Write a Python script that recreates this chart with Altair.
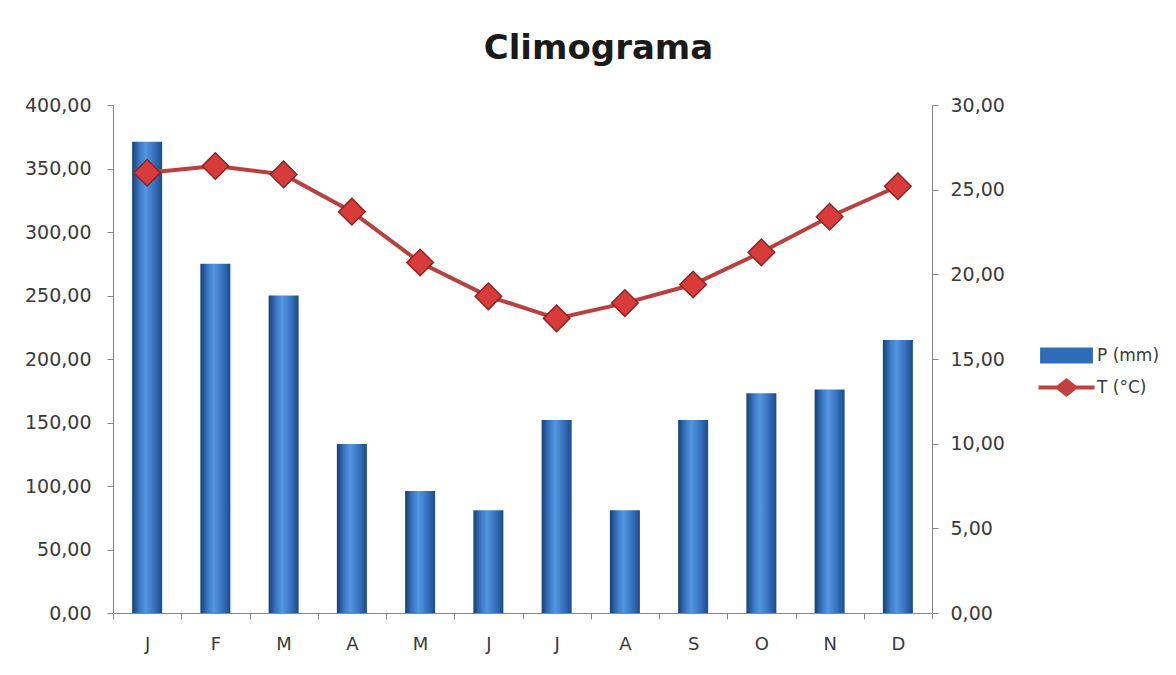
import altair as alt
import pandas as pd

months = ["J", "F", "M", "A", "M ", "J ", "J  ", "A ", "S", "O", "N", "D"]
precip = [371, 275, 250, 133, 96, 81, 152, 81, 152, 173, 176, 215]
temp = [26.0, 26.4, 25.9, 23.7, 20.7, 18.7, 17.4, 18.3, 19.4, 21.3, 23.4, 25.2]
series = ["P (mm)", "T (°C)"]

df = pd.DataFrame({"mes": months, "P": precip, "T": temp, "serie": series[1]})

FONT = "DejaVu Sans"
AXIS_GRAY = "#868686"
LABEL_COLOR = "#3a3a3a"

label_expr = "replace(format(datum.value, '.2f'), '.', ',')"

x_enc = alt.X(
    "mes:N",
    sort=months,
    scale=alt.Scale(paddingInner=0, paddingOuter=0),
    axis=alt.Axis(
        title=None,
        labelAngle=0,
        labelExpr="isValid(datum.value) ? trim(datum.value) : ''",
        tickBand="extent",
        tickSize=6,
        tickColor=AXIS_GRAY,
        domainColor=AXIS_GRAY,
        labelFont=FONT,
        labelFontSize=18,
        labelColor=LABEL_COLOR,
        labelPadding=16,
    ),
)

bar_gradient = alt.Gradient(
    gradient="linear",
    stops=[
        alt.GradientStop(color="#173f75", offset=0),
        alt.GradientStop(color="#3a78c4", offset=0.25),
        alt.GradientStop(color="#5596e0", offset=0.45),
        alt.GradientStop(color="#3470bd", offset=0.75),
        alt.GradientStop(color="#1c4b8a", offset=1),
    ],
    x1=0, x2=1, y1=0, y2=0,
)

bars = alt.Chart(df).mark_bar(size=30, fill=bar_gradient).encode(
    x=x_enc,
    y=alt.Y(
        "P:Q",
        scale=alt.Scale(domain=[0, 400], nice=False),
        axis=alt.Axis(
            title=None,
            orient="left",
            values=[0, 50, 100, 150, 200, 250, 300, 350, 400],
            labelExpr=label_expr,
            grid=False,
            tickSize=6,
            tickColor=AXIS_GRAY,
            domainColor=AXIS_GRAY,
            labelFont=FONT,
            labelFontSize=19,
            labelColor=LABEL_COLOR,
            labelPadding=16,
        ),
    ),
)

y_t = alt.Y(
    "T:Q",
    scale=alt.Scale(domain=[0, 30], nice=False),
    axis=alt.Axis(
        title=None,
        orient="right",
        values=[0, 5, 10, 15, 20, 25, 30],
        labelExpr=label_expr,
        grid=False,
        tickSize=6,
        tickColor=AXIS_GRAY,
        domainColor=AXIS_GRAY,
        labelFont=FONT,
        labelFontSize=19,
        labelColor=LABEL_COLOR,
        labelPadding=12,
    ),
)

line = alt.Chart(df).mark_line(color="#b8413f", strokeWidth=4).encode(x=x_enc, y=y_t)

pts_edge = alt.Chart(df).mark_point(
    shape="diamond", filled=True, color="#8c2222", size=820, opacity=1
).encode(x=x_enc, y=y_t)

pts = alt.Chart(df).mark_point(
    shape="diamond", filled=True, color="#d83c3a", size=600, opacity=1
).encode(x=x_enc, y=y_t)

rect_path = "M-3.3,-1L3.3,-1L3.3,1L-3.3,1Z"
line_diamond_path = (
    "M-3.5,-0.25L3.5,-0.25L3.5,0.25L-3.5,0.25Z "
    "M-1.5,0L0,-1.2L1.5,0L0,1.2Z"
)

legend_def = alt.Legend(
    title=None,
    orient="none",
    legendX=945,
    legendY=242,
    symbolSize=256,
    symbolOpacity=1,
    symbolStrokeWidth=0,
    labelOffset=22,
    labelFont=FONT,
    labelFontSize=17,
    labelColor=LABEL_COLOR,
    labelLimit=200,
    rowPadding=13,
    padding=0,
)

legend_layer = alt.Chart(df).mark_point(filled=True, opacity=0).encode(
    x=x_enc,
    y=y_t,
    color=alt.Color(
        "serie:N",
        scale=alt.Scale(domain=series, range=["#2f6cb8", "#c0403d"]),
        legend=legend_def,
    ),
    shape=alt.Shape(
        "serie:N",
        scale=alt.Scale(domain=series, range=[rect_path, line_diamond_path]),
        legend=legend_def,
    ),
)

right = alt.layer(line, pts_edge, pts, legend_layer)

chart = (
    alt.layer(bars, right)
    .resolve_scale(y="independent")
    .properties(
        width=819,
        height=508,
        title=alt.TitleParams(
            "Climograma",
            font=FONT,
            fontSize=34,
            fontWeight="bold",
            color="#1a1a1a",
            anchor="middle",
            dx=76,
            offset=30,
        ),
        autosize=alt.AutoSizeParams(type="none"),
        padding={"left": 105, "top": 97, "right": 236, "bottom": 46},
        background="white",
    )
    .configure_view(stroke=None)
)

chart.save("out.html", embed_options={"renderer": "svg", "actions": False})
